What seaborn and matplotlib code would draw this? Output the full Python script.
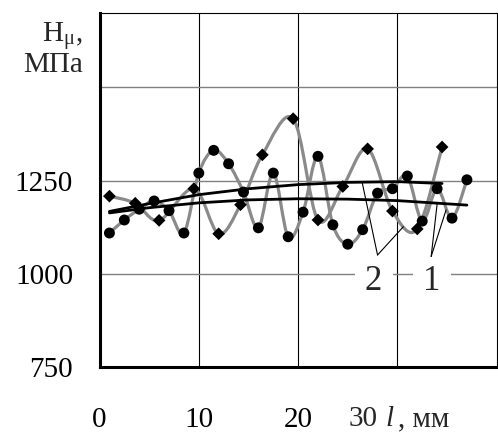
import numpy as np
import seaborn as sns
import matplotlib.pyplot as plt
from matplotlib.path import Path
from matplotlib.patches import PathPatch

# series 1 (circles), l in mm / H in MPa
X1 = [1, 2.5, 4, 5.5, 7, 8.5, 10, 11.5, 13, 14.5, 16, 17.5, 19,
      20.5, 22, 23.5, 25, 26.5, 28, 29.5, 31, 32.5, 34, 35.5, 37]
Y1 = [1109, 1144, 1173, 1195, 1169, 1109, 1270, 1331, 1295, 1219, 1123,
      1270, 1099, 1165, 1315, 1131, 1079, 1118, 1216, 1228, 1262, 1141,
      1228, 1149, 1252]

# series 2 (diamonds)
X2 = [1.0, 3.6, 6.0, 9.5, 12.0, 14.2, 16.4, 19.5, 22.0, 24.5, 27.0,
      29.5, 32.0, 34.5]
Y2 = [1208, 1189, 1143, 1228, 1107, 1185, 1319, 1416, 1144, 1234, 1335,
      1168, 1120, 1340]

# trend lines
T1_X = [1, 5, 10, 15, 20, 25, 30, 37]
T1_Y = [1163, 1177, 1190, 1198, 1201, 1200, 1196, 1184]
T2_X = [1, 5, 10, 15, 20, 25, 30, 34.5]
T2_Y = [1167, 1188, 1212, 1228, 1239, 1245, 1247, 1242]

X_TICKS = [0, 10, 20, 30]
X_TICKLABELS = ['0', '10', '20', '']
Y_TICKS = [750, 1000, 1250, 1500]
Y_TICKLABELS = ['750', '1000', '1250', '']

GRAY = '#8a8a8a'


def smooth_path(x, y):
    # Excel-like smoothed line (cubic bezier through the points)
    p = np.column_stack([x, y]).astype(float)
    n = len(p)
    verts = [p[0]]
    codes = [Path.MOVETO]
    for i in range(n - 1):
        p0 = p[max(i - 1, 0)]
        p3 = p[min(i + 2, n - 1)]
        c1 = p[i] + (p[i + 1] - p0) / 6
        c2 = p[i + 1] - (p3 - p[i]) / 6
        verts += [c1, c2, p[i + 1]]
        codes += [Path.CURVE4] * 3
    return Path(verts, codes)


sns.set_style('white')
plt.rcParams['font.family'] = ['Liberation Serif', 'DejaVu Serif']
plt.rcParams['mathtext.fontset'] = 'stix'

fig = plt.figure(figsize=(4.98, 4.33), dpi=100)
ax = fig.add_axes([0.1998, 0.1531, 0.7976, 0.817])

for xs, ys in ((X1, Y1), (X2, Y2)):
    ax.add_patch(PathPatch(smooth_path(xs, ys), facecolor='none',
                           edgecolor=GRAY, lw=2.3, zorder=2))

sns.lineplot(x=T2_X, y=T2_Y, color='black', lw=2.0, ax=ax, zorder=3)
sns.lineplot(x=T1_X, y=T1_Y, color='black', lw=2.0, ax=ax, zorder=3)

sns.scatterplot(x=X1, y=Y1, marker='o', s=62, color='black',
                edgecolor='none', ax=ax, zorder=4)
sns.scatterplot(x=X2, y=Y2, marker='D', s=42, color='black',
                edgecolor='none', ax=ax, zorder=4)

ax.set_xlim(0, 40)
ax.set_ylim(750, 1700)
ax.set_xticks(X_TICKS)
ax.set_xticklabels(X_TICKLABELS)
ax.set_yticks(Y_TICKS)
ax.set_yticklabels(Y_TICKLABELS)
ax.tick_params(axis='both', length=0, labelsize=21, colors='black')
ax.tick_params(axis='x', pad=29)
ax.tick_params(axis='y', pad=19)

ax.xaxis.grid(True, color='black', lw=0.8)
ax.yaxis.grid(True, color='#808080', lw=1.0)
ax.set_axisbelow(True)

for side in ('left', 'bottom'):
    ax.spines[side].set_linewidth(2.2)
    ax.spines[side].set_color('black')
for side in ('top', 'right'):
    ax.spines[side].set_linewidth(0.8)
    ax.spines[side].set_color('black')

# curve labels with leader lines
ax.text(27.6, 980, '2', fontsize=25, ha='center', va='center', zorder=3,
        bbox=dict(boxstyle='square,pad=0.3', fc='white', ec='none'))
ax.text(33.5, 980, '1', fontsize=25, ha='center', va='center', zorder=3,
        bbox=dict(boxstyle='square,pad=0.3', fc='white', ec='none'))
for x0, y0, x1, y1 in ((28.0, 1050, 26.45, 1245), (28.0, 1050, 30.6, 1126),
                       (33.4, 1046, 34.0, 1187), (33.4, 1046, 34.9, 1171)):
    ax.plot([x0, x1], [y0, y1], color='black', lw=0.8, zorder=5)

# axis titles
fig.text(0.167, 1 - 42 / 433, r'H$_{\mathregular{μ}}$,', fontsize=21,
         ha='right', va='baseline')
fig.text(0.167, 1 - 72 / 433, 'МПа', fontsize=21, ha='right',
         va='baseline')

base = 1 - 426 / 433
fig.text(363 / 498, base, '30', fontsize=21, ha='center', va='baseline')
fig.text(385 / 498, base, 'l', fontsize=21, style='italic', ha='left',
         va='baseline')
fig.text(398 / 498, base, ', мм', fontsize=21, ha='left', va='baseline')

fig.savefig('out.png', dpi=100)
